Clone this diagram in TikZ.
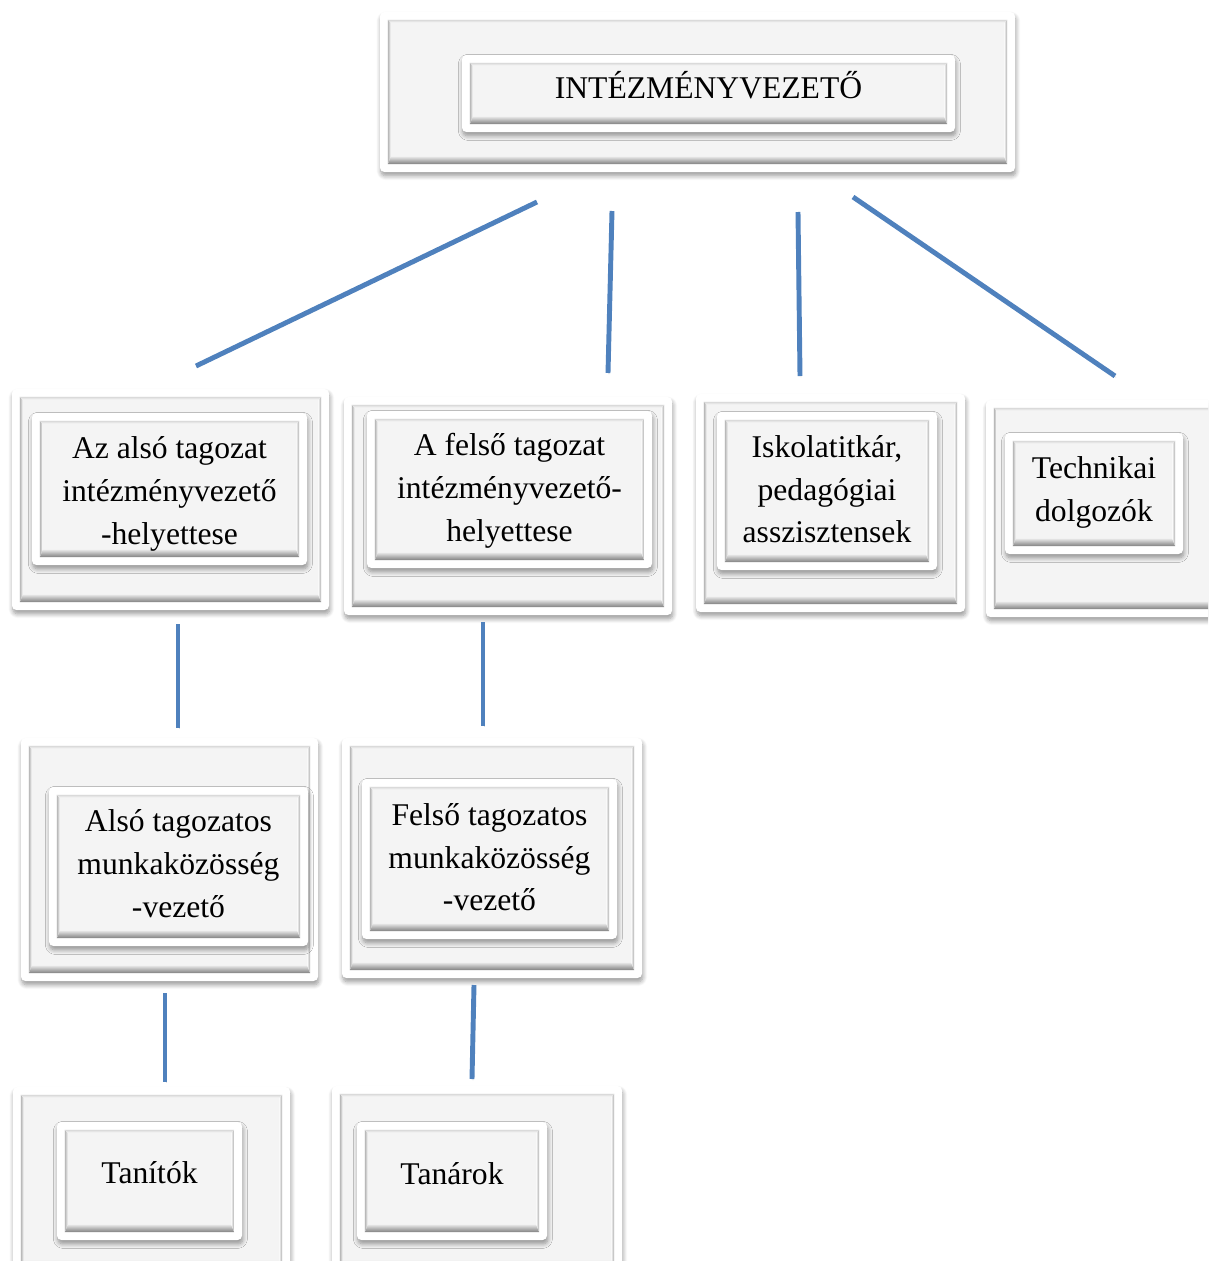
\documentclass[tikz,border=0pt]{standalone}
\usepackage{fontspec}
\setmainfont{Liberation Serif}
\usetikzlibrary{fit,shadows.blur}

\definecolor{face}{HTML}{F4F4F4}
\definecolor{linkblue}{HTML}{4F81BD}

\tikzset{
  frame/.style={draw=none, fill=white, rounded corners=2.5pt, inner sep=0pt,
    blur shadow={shadow xshift=0.5pt, shadow yshift=-2.2pt,
                 shadow blur steps=8, shadow blur radius=2.5pt, shadow opacity=40},
    path picture={
      \begin{scope}[sharp corners]
      \path (path picture bounding box.north west) ++(4.5pt,-4.5pt) coordinate (bnw)
            (path picture bounding box.south east) ++(-4.5pt,4.5pt) coordinate (bse)
            (bnw) ++(1.6pt,-1.6pt) coordinate (fnw)
            (bse) ++(-1.6pt,4.2pt) coordinate (fse);
      \fill[face] (bnw) rectangle (bse);
      \shade[top color=black!10, bottom color=black!50] (bnw|-bse) -- (bse) -- (fse) -- (fnw|-fse) -- cycle;
      \shade[left color=black!5, right color=black!32] (bse) -- (bse|-bnw) -- (fse|-fnw) -- (fse) -- cycle;
      \shade[left color=black!28, right color=black!5] (bnw) -- (bnw|-bse) -- (fnw|-fse) -- (fnw) -- cycle;
      \shade[top color=black!15, bottom color=black!3] (bnw) -- (bse|-bnw) -- (fse|-fnw) -- (fnw) -- cycle;
      \end{scope}
    }},
  txt/.style={align=center, inner sep=0pt, font=\fontsize{18}{24.4}\selectfont},
  conn/.style={draw=linkblue, line width=2.8pt,
    preaction={draw=black, opacity=0.12, transform canvas={shift={(0.6pt,-0.8pt)}}}}
}

\begin{document}
\begin{tikzpicture}[x=0.02cm, y=-0.02cm]
    \useasboundingbox (0,0) rectangle (1208,1261);
    \clip (0,0) rectangle (1208,1261);

    % top
    \node[frame, fit={(380,12) (1015,172)}] (vez-o) {};
    \node[frame, fit={(462,55) (955,132)}] (vez) {};
    \node[txt, yshift=4.9pt] (vez-t) at (vez) {INTÉZMÉNYVEZETŐ};

    % second row
    \node[frame, fit={(12,389) (329,610)}] (also-o) {};
    \node[frame, fit={(32,413) (307,565)}] (also) {};
    \node[txt, yshift=-2.8pt] (also-t) at (also) {Az alsó tagozat\\intézményvezető\\-helyettese};
    \node[frame, fit={(344,397) (672,615)}] (felso-o) {};
    \node[frame, fit={(367,411) (652,568)}] (felso) {};
    \node[txt, yshift=-0.7pt] (felso-t) at (felso) {A felső tagozat\\intézményvezető-\\helyettese};
    \node[frame, fit={(696,394) (965,612)}] (titkar-o) {};
    \node[frame, fit={(717,412) (937,570)}] (titkar) {};
    \node[txt, yshift=1pt] (titkar-t) at (titkar) {Iskolatitkár,\\pedagógiai\\asszisztensek};
    \node[frame, fit={(986,400) (1222,617)}] (techn-o) {};
    \node[frame, fit={(1005,433) (1183,554)}] (techn) {};
    \node[txt, yshift=0.7pt] (techn-t) at (techn) {Technikai\\dolgozók};

    % third row
    \node[frame, fit={(21,738) (318,981)}] (amk-o) {};
    \node[frame, fit={(49,787) (308,946)}] (amk) {};
    \node[txt, yshift=1.5pt] (amk-t) at (amk) {Alsó tagozatos\\munkaközösség\\-vezető};
    \node[frame, fit={(342,738) (642,978)}] (fmk-o) {};
    \node[frame, fit={(362,779) (617,939)}] (fmk) {};
    \node[txt, yshift=1pt] (fmk-t) at (fmk) {Felső tagozatos\\munkaközösség\\-vezető};

    % bottom row
    \node[frame, fit={(13,1087) (290,1276)}] (tanitok-o) {};
    \node[frame, fit={(57,1122) (242,1240)}] (tanitok) {};
    \node[txt, yshift=4.8pt] (tanitok-t) at (tanitok) {Tanítók};
    \node[frame, fit={(332,1086) (622,1276)}] (tanarok-o) {};
    \node[frame, fit={(357,1122) (547,1240)}] (tanarok) {};
    \node[txt, yshift=4.2pt] (tanarok-t) at (tanarok) {Tanárok};

    % line ends
    \coordinate (v1) at (537,202);  \coordinate (a1) at (196,366);
    \coordinate (v2) at (612,211);  \coordinate (f1) at (608,373);
    \coordinate (v3) at (798,212);  \coordinate (t1) at (800,376);
    \coordinate (v4) at (853,197);  \coordinate (d1) at (1115,376);
    \coordinate (a2) at (178,624);  \coordinate (am1) at (178,728);
    \coordinate (f2) at (483,622);  \coordinate (fm1) at (483,726);
    \coordinate (am2) at (165,993); \coordinate (ta1) at (165,1082);
    \coordinate (fm2) at (474,985); \coordinate (tr1) at (472,1079);

    \draw[conn] (v1) -- (a1);
    \draw[conn] (v2) -- (f1);
    \draw[conn] (v3) -- (t1);
    \draw[conn] (v4) -- (d1);
    \draw[conn] (a2) -- (am1);
    \draw[conn] (f2) -- (fm1);
    \draw[conn] (am2) -- (ta1);
    \draw[conn] (fm2) -- (tr1);
\end{tikzpicture}
\end{document}
